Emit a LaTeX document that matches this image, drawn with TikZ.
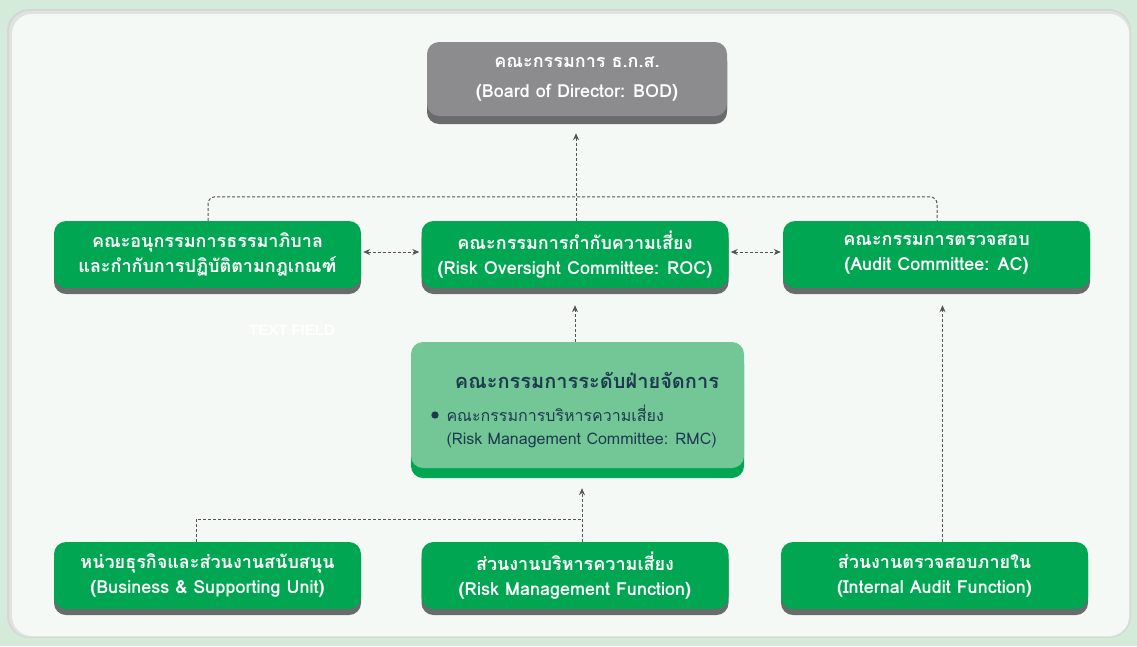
\documentclass[tikz,border=0pt]{standalone}
\usepackage{fontspec}
\usepackage{tikz}
\usetikzlibrary{arrows.meta,shadows}

\newfontfamily\thaifont[Script=Thai]{Loma}
\newfontfamily\labelfont{Liberation Sans}

\definecolor{pagegreen}{HTML}{D5EBDA}
\definecolor{panel}{HTML}{F4F9F6}
\definecolor{unitgreen}{HTML}{00A651}
\definecolor{unitshade}{HTML}{6A6B6D}
\definecolor{boardgrey}{HTML}{8C8C8E}
\definecolor{mgmtgreen}{HTML}{73C797}
\definecolor{inkdark}{HTML}{1D3B4F}
\definecolor{linkgrey}{HTML}{555555}

\tikzset{
  unit/.style={rounded corners=12pt, fill=unitgreen, text=white,
    minimum width=307pt, minimum height=67pt, align=center,
    font=\thaifont\bfseries\fontsize{18}{25}\selectfont,
    drop shadow={shadow xshift=0pt, shadow yshift=-6pt, fill=unitshade, opacity=1}},
  board/.style={unit, fill=boardgrey, minimum width=300pt, minimum height=74pt,
    font=\thaifont\bfseries\fontsize{18}{30}\selectfont,
    drop shadow={shadow xshift=0pt, shadow yshift=-8pt, fill=unitshade, opacity=1}},
  mgmt/.style={rounded corners=12pt, fill=mgmtgreen, minimum width=333pt, minimum height=126pt,
    drop shadow={shadow xshift=0pt, shadow yshift=-10pt, fill=unitgreen, opacity=1}},
  link/.style={draw=linkgrey, line width=1pt, dash pattern=on 3pt off 2pt},
  tip/.style={-{Stealth[length=7pt,width=6pt]}},
}

\begin{document}
\begin{tikzpicture}[x=1pt,y=-1pt]
    \useasboundingbox (0,0) rectangle (1137,646);
    %% page and panel
    \fill[pagegreen] (0,0) rectangle (1137,646);
    \fill[black!16, rounded corners=22pt] (7,9) rectangle (1131,638);
    \fill[black!9!panel, rounded corners=21pt] (9,11) rectangle (1130,637);
    \fill[panel, rounded corners=20pt] (12,14) rectangle (1129,636);
    \node[text=white, font=\labelfont\bfseries\fontsize{15}{18}\selectfont] (tf) at (292,330) {TEXT FIELD};

    %% board
    \node[board] (bod) at (577,79) {คณะกรรมการ ธ.ก.ส.\\(Board of Director: BOD)};
    %% committees
    \node[unit] (roc) at (575,254.5) {คณะกรรมการกำกับความเสี่ยง\\(Risk Oversight Committee: ROC)};
    \node[unit] (gov) at (207.5,254.5) {คณะอนุกรรมการธรรมาภิบาล\\และกำกับการปฏิบัติตามกฎเกณฑ์};
    \node[unit] (ac) at (936.5,254.5) {คณะกรรมการตรวจสอบ\\(Audit Committee: AC)};
    %% management level
    \node[mgmt] (rmc) at (577.5,405) {};
    \node[text=inkdark, font=\thaifont\bfseries\fontsize{20}{22}\selectfont] (rmct) at (587,380) {คณะกรรมการระดับฝ่ายจัดการ};
    \node[circle, fill=inkdark, inner sep=2.6pt] (dot) at (435,415) {};
    \node[anchor=west, align=left, text=inkdark, font=\thaifont\fontsize{16}{23}\selectfont] (rmcl) at (443,426) {คณะกรรมการบริหารความเสี่ยง\\(Risk Management Committee: RMC)};
    %% functions
    \node[unit] (bsu) at (207.5,575.5) {หน่วยธุรกิจและส่วนงานสนับสนุน\\(Business \& Supporting Unit)};
    \node[unit] (rmf) at (575,575.5) {ส่วนงานบริหารความเสี่ยง\\(Risk Management Function)};
    \node[unit] (iaf) at (934.5,575.5) {ส่วนงานตรวจสอบภายใน\\(Internal Audit Function)};

    %% reporting lines
    \draw[link, rounded corners=7pt] ([xshift=0.5pt]gov.north) -- ++(0,-24) -| ([xshift=0.5pt]ac.north);
    \draw[link, tip, shorten >=17pt] ([xshift=1pt]roc.north) -- ([xshift=1pt]roc.north |- bod.south);
    \draw[link, {Stealth[length=7pt,width=6pt]}-{Stealth[length=7pt,width=6pt]}, shorten <=2pt, shorten >=2pt] ([yshift=2.5pt]gov.east) -- ([yshift=2.5pt]roc.west);
    \draw[link, {Stealth[length=7pt,width=6pt]}-{Stealth[length=7pt,width=6pt]}, shorten <=2pt, shorten >=2pt] ([yshift=2.5pt]roc.east) -- ([yshift=2.5pt]ac.west);
    \draw[link, tip, shorten >=17pt] (rmc.north -| roc.south) -- (roc.south);
    %% functions to management
    \coordinate (join) at (582,519);
    \draw[link] ([xshift=-11.5pt]bsu.north) |- (join);
    \draw[link, tip, shorten >=20pt] ([xshift=7pt]rmf.north) -- ([xshift=7pt]rmf.north |- rmc.south);
    \draw[link, tip, shorten >=17pt] ([xshift=8pt]iaf.north) -- ([xshift=8pt]iaf.north |- ac.south);
\end{tikzpicture}
\end{document}
